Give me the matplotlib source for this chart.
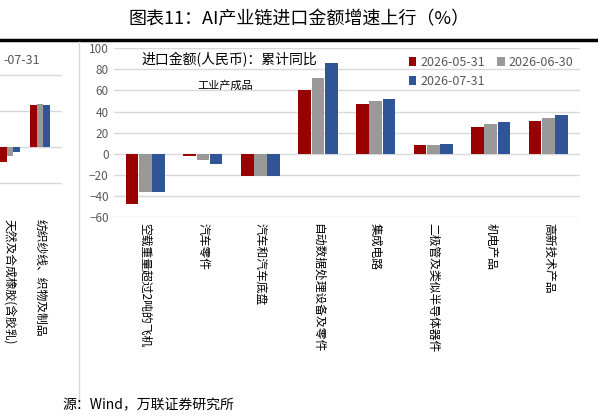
import matplotlib.pyplot as plt
import numpy as np

plt.rcParams['font.family'] = ['Noto Sans CJK SC', 'DejaVu Sans']

series = ['2026-05-31', '2026-06-30', '2026-07-31']
colors = ['#990000', '#999999', '#2f5597']

cats = ['空载重量超过2吨的飞机', '汽车零件', '汽车和汽车底盘', '自动数据处理设备及零件',
        '集成电路', '二极管及类似半导体器件', '机电产品', '高新技术产品']
v_may = [-47, -2, -21, 60, 47, 8, 25, 31]
v_jun = [-36, -6, -21, 72, 50, 8, 28, 34]
v_jul = [-36, -10, -21, 86, 52, 9, 30, 37]

left_cats = ['天然及合成橡胶(含胶乳)', '纺织纱线、织物及制品']
l_may = [-17, 47]
l_jun = [-10, 48]
l_jul = [-6, 47]

fig = plt.figure(figsize=(5.98, 4.18), dpi=100)

fig.text(0.5, 0.955, '图表11：AI产业链进口金额增速上行（%）', ha='center', va='center', fontsize=13)
fig.add_artist(plt.Line2D([0.0, 1.0], [0.905, 0.905], color='black', lw=2.5))
fig.text(0.105, 0.03, '源：Wind，万联证券研究所', fontsize=10, style='italic', va='center')

# left partial panel (cut off by the crop)
axl = fig.add_axes([0.0, 0.5215, 62 / 598, 0.383])
x = np.arange(len(left_cats))
w = 0.23
for i, vals in enumerate([l_may, l_jun, l_jul]):
    axl.bar(x + (i - 1) * w, vals, w, color=colors[i])
axl.set_xlim(-0.333, 1.733)
axl.set_ylim(-59, 119)
axl.set_yticks([-40, 0, 40, 80])
axl.set_yticklabels([])
axl.tick_params(length=0)
axl.grid(axis='y', color='#d9d9d9', lw=1)
axl.set_axisbelow(True)
for s in axl.spines.values():
    s.set_visible(False)
axl.set_xticks(x)
axl.set_xticklabels([])
for xi, c in zip(x, left_cats):
    axl.text(xi, -80, c, rotation=270, ha='center', va='top', fontsize=8.5, clip_on=False)
fig.text(0.005, 0.855, '-07-31', fontsize=9, color='#595959', va='center')
fig.add_artist(plt.Line2D([0.272 - 0.0, 0.272], [0.03, 0.9], color='#d9d9d9', lw=1, alpha=0))
fig.add_artist(plt.Line2D([0.132, 0.132], [0.03, 0.9], color='#d9d9d9', lw=1))

# main panel
ax = fig.add_axes([0.19, 0.48, 0.78, 0.405])
x = np.arange(len(cats))
bars = []
for i, vals in enumerate([v_may, v_jun, v_jul]):
    bars.append(ax.bar(x + (i - 1) * w, vals, 0.22, color=colors[i], label=series[i]))
ax.set_xlim(-0.55, len(cats) - 0.45)
ax.set_ylim(-60, 100)
ax.set_yticks(range(-60, 101, 20))
ax.tick_params(axis='y', length=0, labelsize=8.5, labelcolor='#595959')
ax.grid(axis='y', color='#d9d9d9', lw=1)
ax.set_axisbelow(True)
for s in ax.spines.values():
    s.set_visible(False)
ax.set_xticks(x)
ax.set_xticklabels([])
ax.tick_params(axis='x', length=0)
for xi, c in zip(x, cats):
    ax.text(xi, -65, c, rotation=270, ha='center', va='top', fontsize=8.5)
ax.text(0.06, 0.93, '进口金额(人民币)：累计同比', transform=ax.transAxes, fontsize=10, va='center')
ax.text(0.18, 0.78, '工业产成品', transform=ax.transAxes, fontsize=8, va='center')
order = [0, 2, 1]
ax.legend([bars[k] for k in order], [series[k] for k in order], loc='upper right', ncol=2,
          frameon=False, fontsize=9, handlelength=0.6, handletextpad=0.3, columnspacing=1.0,
          labelcolor='#595959', bbox_to_anchor=(1.01, 1.02))

plt.savefig('out.png', dpi=100)
